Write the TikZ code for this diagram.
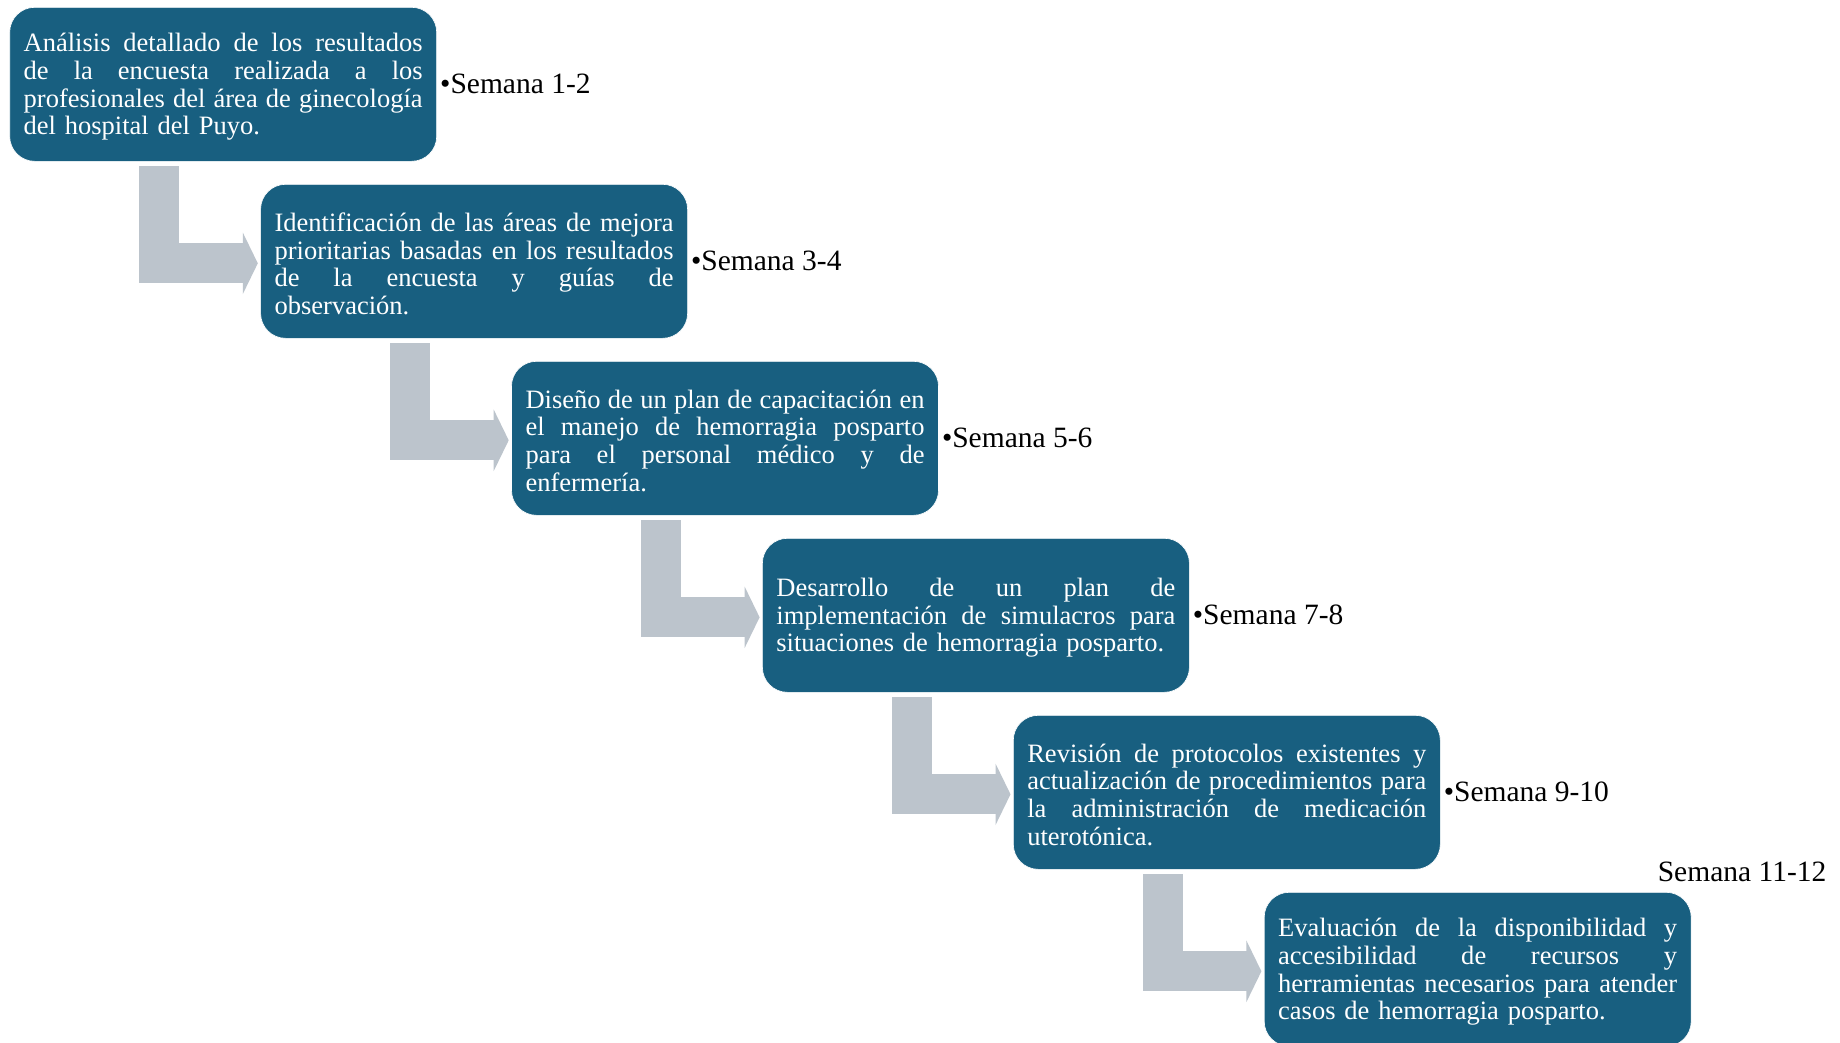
\documentclass[tikz,border=0pt]{standalone}
\usepackage{fontspec}
\setmainfont{Liberation Serif}
\usetikzlibrary{calc,arrows.meta}
\definecolor{boxblue}{RGB}{24,95,128}
\definecolor{arrowgray}{RGB}{188,196,204}
\newlength{\boxtw}
\setlength{\boxtw}{399pt}
\newcommand{\jl}[1]{\makebox[\boxtw][s]{\spaceskip=0.25em plus 10em minus 0.08em\relax #1}\\}
\newcommand{\lastl}[1]{#1\par\vspace{-5pt}}
\tikzset{
  stepbox/.style={draw=white, line width=0.6pt, fill=boxblue, rounded corners=25pt,
    text=white, text width=\boxtw, align=left, inner xsep=14pt, inner ysep=0pt,
    minimum height=154pt, anchor=north west,
    font=\fontsize{26.5}{27.8}\selectfont},
  weeklabel/.style={inner sep=0pt, font=\fontsize{29.5}{32}\selectfont},
  elbow/.style={draw=arrowgray, line width=40pt, line join=miter, line cap=butt,
    -{Triangle[length=15pt,width=61pt]}, shorten >=2.5pt}
}
\begin{document}
\begin{tikzpicture}[x=1pt,y=-1pt]
\clip (0,0) rectangle (1840,1042);
\fill[white] (0,0) rectangle (1840,1042);

\node[stepbox] (b1) at (9.4,7) {\jl{Análisis detallado de los resultados}\jl{de la encuesta realizada a los}\jl{profesionales del área de ginecología}\lastl{del hospital del Puyo.}};
\node[stepbox] (b2) at (260.3,184) {\jl{Identificación de las áreas de mejora}\jl{prioritarias basadas en los resultados}\jl{de la encuesta y guías de}\lastl{observación.}};
\node[stepbox] (b3) at (511.2,361) {\jl{Diseño de un plan de capacitación en}\jl{el manejo de hemorragia posparto}\jl{para el personal médico y de}\lastl{enfermería.}};
\node[stepbox] (b4) at (762.1,538) {\jl{Desarrollo de un plan de}\jl{implementación de simulacros para}\lastl{situaciones de hemorragia posparto.}};
\node[stepbox] (b5) at (1013,715) {\jl{Revisión de protocolos existentes y}\jl{actualización de procedimientos para}\jl{la administración de medicación}\lastl{uterotónica.}};
\node[stepbox] (b6) at (1263.9,892) {\jl{Evaluación de la disponibilidad y}\jl{accesibilidad de recursos y}\jl{herramientas necesarios para atender}\lastl{casos de hemorragia posparto.}};

\node[weeklabel, anchor=west] (w1) at ($(b1.east)+(3,0)$) {•Semana 1-2};
\node[weeklabel, anchor=west] (w2) at ($(b2.east)+(3,0)$) {•Semana 3-4};
\node[weeklabel, anchor=west] (w3) at ($(b3.east)+(3,0)$) {•Semana 5-6};
\node[weeklabel, anchor=west] (w4) at ($(b4.east)+(3,0)$) {•Semana 7-8};
\node[weeklabel, anchor=west] (w5) at ($(b5.east)+(3,0)$) {•Semana 9-10};
\node[weeklabel, anchor=east] (w6) at ($(b6.north east)+(135,-20)$) {Semana 11-12};

\foreach \a/\b in {b1/b2,b2/b3,b3/b4,b4/b5,b5/b6}{
  \draw[elbow] ($(\a.south west)+(149.5,4.5)$) |- ($(\b.west)+(0,2)$);
}
\end{tikzpicture}
\end{document}
